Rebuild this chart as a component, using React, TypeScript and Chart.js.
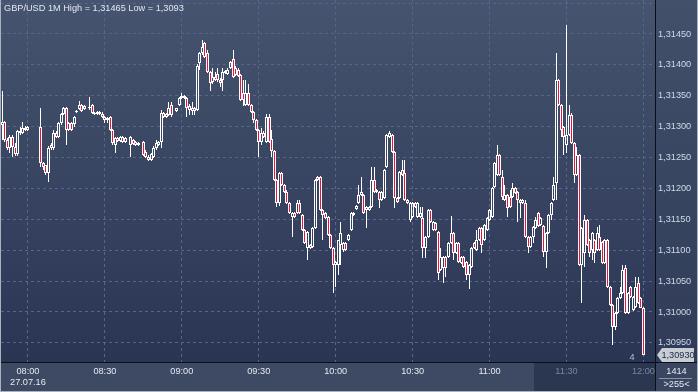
import React, { useEffect, useRef } from 'react';
import { Chart, registerables } from 'chart.js';

Chart.register(...registerables);

// ---- categories (1-minute slots, 07:50 .. 12:04) ----
const startMinute = 7 * 60 + 50;
const slotCount = 255;
const timeLabels: string[] = Array.from({ length: slotCount }, (_, i) => {
  const m = startMinute + i;
  return `${String(Math.floor(m / 60)).padStart(2, '0')}:${String(m % 60).padStart(2, '0')}`;
});
const dateLabel = '27.07.16';
const highlightFrom = '11:18';

// ---- texts ----
const symbolTitle = 'GBP/USD 1M';
const highText = '1,31465';
const lowText = '1,3093';
const lastPriceText = '1,30930';
const barCountText = '1414';
const visibleBarsText = '>255<';
const cornerMark = '4';

// ---- y axis ----
const yMin = 1.30919;
const yMax = 1.31505;
const yStep = 0.0005;

// ---- OHLC series ----
const openPrices: (number | null)[] = [
  1.31303, 1.31308, 1.31279, 1.31266, 1.31283, 1.31267, 1.31256, 1.31293, 1.3129, 1.31298,
  1.313, null, null, null, null, 1.313, 1.31241, 1.31238, 1.31225, 1.3127,
  1.31266, 1.3129, 1.31283, 1.31306, 1.31321, 1.3133, 1.31295, 1.31306, 1.31304, 1.31324,
  1.31329, 1.31335, 1.31329, null, 1.3133, 1.31335, 1.31322, 1.31321, 1.31324, 1.31321,
  1.31316, 1.31311, 1.31316, 1.31295, 1.3127, 1.31282, 1.31277, 1.31283, 1.31275, null,
  1.3127, 1.31279, 1.31275, 1.3127, null, 1.31275, 1.31259, 1.31251, 1.31246, 1.31251,
  1.31266, 1.3127, 1.31275, 1.31322, 1.31316, 1.31319, 1.31335, null, 1.31325, 1.31335,
  1.31346, 1.3135, 1.31346, 1.31334, 1.31325, 1.3133, 1.31327, 1.31403, 1.31419, 1.31435,
  1.31419, 1.31389, 1.31372, 1.31376, 1.31385, 1.31376, 1.31376, 1.31387, 1.31385, 1.31395,
  1.3141, 1.31395, 1.31392, 1.31384, 1.31355, 1.31335, 1.31355, 1.31335, 1.31324, 1.31311,
  1.31295, 1.31275, 1.3129, 1.31275, 1.31316, 1.3128, 1.31261, 1.31214, 1.31177, 1.31225,
  1.31206, 1.31194, 1.31177, 1.31154, 1.3116, 1.3116, 1.31177, 1.31157, 1.31133, 1.31104,
  1.31109, 1.31105, 1.31136, 1.31219, 1.31219, 1.31165, 1.3116, 1.31154, 1.31125, 1.31104,
  1.31076, 1.31076, 1.31109, 1.311, 1.31112, 1.31117, 1.31133, 1.3116, 1.31167, 1.31177,
  1.3119, 1.3119, 1.3117, 1.31165, 1.3117, 1.31214, 1.31198, 1.31194, 1.31181, 1.31185,
  1.31235, 1.31283, 1.31287, 1.31259, 1.31185, 1.31185, 1.3123, 1.31225, 1.31181, 1.31149,
  1.31154, 1.31177, 1.31154, 1.31154, 1.31152, 1.31104, 1.31122, 1.31165, 1.31133, 1.31144,
  1.3113, 1.31068, 1.31071, 1.31089, 1.31089, 1.31112, 1.31128, 1.31096, 1.31112, 1.3108,
  1.31089, 1.31081, 1.3106, 1.31073, 1.31112, 1.311, 1.31117, 1.31136, 1.31117, 1.31133,
  1.31149, 1.31154, 1.31202, 1.31222, 1.31254, 1.31219, 1.31181, 1.3119, 1.31186, 1.31186,
  1.31201, 1.31194, 1.31181, 1.31177, 1.31177, 1.31122, 1.31105, 1.31122, 1.31136, 1.3116,
  1.31141, 1.31139, 1.31097, 1.31128, 1.31157, 1.31181, 1.31209, 1.31376, 1.31335, 1.313,
  1.3127, 1.31287, 1.31319, 1.31274, 1.31222, 1.31254, 1.31076, 1.31096, 1.31149, 1.31117,
  1.311, 1.31117, 1.311, 1.31122, 1.31113, 1.3108, 1.31117, 1.31041, 1.31012, 1.30976,
  1.30999, 1.31023, 1.31031, 1.31071, 1.30999, 1.31041, 1.31003, 1.31008, 1.31047, 1.31023,
  1.31007,
];

const highPrices: (number | null)[] = [
  1.31358, 1.31309, 1.31282, 1.31287, 1.31287, 1.31274, 1.31295, 1.313, 1.31308, 1.31301,
  1.31301, null, null, null, null, 1.3133, 1.31243, 1.31238, 1.31269, 1.31274,
  1.31295, 1.31293, 1.31308, 1.31322, 1.31332, 1.31332, 1.31308, 1.31308, 1.31317, 1.31327,
  1.31342, 1.31337, 1.31335, null, 1.31348, 1.31337, 1.31324, 1.31325, 1.31325, 1.31324,
  1.31317, 1.31316, 1.31317, 1.31296, 1.31283, 1.31283, 1.31285, 1.31285, 1.31283, null,
  1.31285, 1.3128, 1.31277, 1.31275, null, 1.31277, 1.31262, 1.31254, 1.31258, 1.31269,
  1.31279, 1.31277, 1.31327, 1.31324, 1.31322, 1.3134, 1.3134, null, 1.3133, 1.31348,
  1.31355, 1.31351, 1.31348, 1.31337, 1.3134, 1.31332, 1.31402, 1.31421, 1.3144, 1.31437,
  1.31424, 1.3139, 1.31395, 1.31389, 1.31395, 1.31379, 1.31395, 1.31392, 1.31395, 1.31406,
  1.31424, 1.31398, 1.31395, 1.31385, 1.31376, 1.31376, 1.31369, 1.31337, 1.31325, 1.31313,
  1.31296, 1.31298, 1.31293, 1.31321, 1.31321, 1.31295, 1.31262, 1.31215, 1.31227, 1.31227,
  1.31207, 1.31198, 1.31178, 1.31162, 1.31162, 1.31181, 1.31181, 1.31159, 1.31135, 1.31131,
  1.3111, 1.31138, 1.31215, 1.3122, 1.3122, 1.31167, 1.31162, 1.31156, 1.31126, 1.31105,
  1.31083, 1.31117, 1.31146, 1.31113, 1.31113, 1.31126, 1.31162, 1.31162, 1.31173, 1.31206,
  1.31219, 1.31191, 1.31172, 1.31172, 1.31235, 1.31235, 1.31199, 1.31196, 1.31196, 1.31232,
  1.31288, 1.31293, 1.31288, 1.31261, 1.31186, 1.31228, 1.31246, 1.31246, 1.31183, 1.31178,
  1.31178, 1.31178, 1.31178, 1.3117, 1.3117, 1.31123, 1.31167, 1.31167, 1.31147, 1.31146,
  1.31131, 1.31104, 1.31091, 1.31091, 1.31113, 1.31156, 1.3113, 1.31113, 1.31113, 1.31091,
  1.31091, 1.31083, 1.31078, 1.31105, 1.31113, 1.31133, 1.31138, 1.31138, 1.31143, 1.31154,
  1.31167, 1.31202, 1.31243, 1.3127, 1.31256, 1.3123, 1.31206, 1.31191, 1.31198, 1.31209,
  1.31202, 1.31196, 1.31183, 1.31183, 1.31181, 1.31123, 1.31123, 1.31139, 1.31154, 1.31162,
  1.31154, 1.31141, 1.3113, 1.31159, 1.31178, 1.31219, 1.31419, 1.31377, 1.31337, 1.31301,
  1.31465, 1.31335, 1.31322, 1.31275, 1.31267, 1.31256, 1.31138, 1.31157, 1.31151, 1.31118,
  1.3113, 1.31118, 1.31138, 1.31141, 1.31115, 1.31118, 1.31118, 1.31042, 1.31013, 1.31,
  1.31025, 1.31041, 1.31076, 1.31076, 1.31033, 1.31042, 1.31026, 1.31057, 1.31057, 1.31025,
  1.31008,
];

const lowPrices: (number | null)[] = [
  1.31279, 1.31275, 1.31262, 1.31258, 1.31251, 1.31253, 1.31253, 1.31287, 1.31288, 1.31293,
  1.31293, null, null, null, null, 1.31235, 1.3123, 1.31222, 1.31211, 1.31262,
  1.31262, 1.31282, 1.31282, 1.31303, 1.31319, 1.3127, 1.31293, 1.31293, 1.313, 1.31322,
  1.31327, 1.31324, 1.31327, null, 1.31327, 1.31321, 1.31319, 1.31319, 1.31319, 1.31314,
  1.31306, 1.31306, 1.31293, 1.3127, 1.31258, 1.31275, 1.31275, 1.31274, 1.31274, null,
  1.31251, 1.3127, 1.31269, 1.31269, null, 1.31253, 1.31249, 1.31245, 1.31245, 1.31249,
  1.31262, 1.31269, 1.31266, 1.31314, 1.31314, 1.31317, 1.31316, null, 1.31324, 1.31334,
  1.31345, 1.31345, 1.31316, 1.31319, 1.31319, 1.31319, 1.31325, 1.31392, 1.31416, 1.31411,
  1.31387, 1.31358, 1.31369, 1.31374, 1.31372, 1.31364, 1.31358, 1.31385, 1.31384, 1.31393,
  1.31379, 1.31382, 1.3138, 1.31342, 1.31334, 1.31334, 1.31334, 1.31322, 1.31306, 1.31293,
  1.31251, 1.3127, 1.31282, 1.31274, 1.31274, 1.31251, 1.31212, 1.3117, 1.31172, 1.31204,
  1.31193, 1.31175, 1.31159, 1.31122, 1.31152, 1.31159, 1.31159, 1.31131, 1.3111, 1.31084,
  1.31102, 1.31104, 1.31135, 1.31212, 1.31164, 1.31117, 1.31151, 1.31123, 1.31102, 1.31031,
  1.31041, 1.3106, 1.31076, 1.31097, 1.31099, 1.31115, 1.31131, 1.31156, 1.31165, 1.31175,
  1.31188, 1.31159, 1.31136, 1.31164, 1.31169, 1.31193, 1.31193, 1.31169, 1.3118, 1.31183,
  1.31233, 1.31282, 1.31258, 1.31169, 1.31177, 1.31183, 1.3122, 1.3118, 1.31175, 1.31146,
  1.31152, 1.31169, 1.31152, 1.31152, 1.31088, 1.31088, 1.3112, 1.31144, 1.31131, 1.31131,
  1.31052, 1.31067, 1.31047, 1.31057, 1.31088, 1.3111, 1.31084, 1.31094, 1.3108, 1.31078,
  1.31071, 1.31052, 1.31037, 1.31071, 1.31102, 1.31099, 1.31115, 1.31096, 1.31115, 1.31131,
  1.31147, 1.31152, 1.31201, 1.3122, 1.3122, 1.31181, 1.3118, 1.31154, 1.31169, 1.31185,
  1.31191, 1.31146, 1.31152, 1.31175, 1.3112, 1.31096, 1.31104, 1.31112, 1.31135, 1.31138,
  1.31139, 1.31089, 1.31071, 1.31126, 1.31149, 1.3118, 1.31181, 1.31334, 1.31283, 1.31254,
  1.31258, 1.31285, 1.31272, 1.31209, 1.3122, 1.31075, 1.31015, 1.31073, 1.31107, 1.31089,
  1.31084, 1.3108, 1.31099, 1.31099, 1.31078, 1.31078, 1.31039, 1.3101, 1.30947, 1.30971,
  1.30997, 1.31021, 1.31029, 1.30997, 1.30997, 1.31023, 1.31002, 1.31007, 1.31013, 1.31007,
  1.3093,
];

const closePrices: (number | null)[] = [
  1.31308, 1.31279, 1.31266, 1.31283, 1.31267, 1.31256, 1.31293, 1.3129, 1.31298, 1.31295,
  1.31295, null, null, null, null, 1.31241, 1.31235, 1.31225, 1.31266, 1.31266,
  1.3129, 1.31283, 1.31306, 1.31321, 1.3133, 1.31295, 1.31306, 1.31295, 1.31316, 1.31325,
  1.31335, 1.31325, 1.31334, null, 1.31332, 1.31322, 1.31321, 1.31324, 1.31321, 1.31316,
  1.31311, 1.31314, 1.31295, 1.31274, 1.31282, 1.31277, 1.31283, 1.31275, 1.31282, null,
  1.31283, 1.31272, 1.3127, 1.31274, null, 1.31254, 1.31251, 1.31246, 1.31256, 1.31266,
  1.31274, 1.31275, 1.31322, 1.31316, 1.31321, 1.3133, 1.31319, null, 1.3133, 1.31346,
  1.3135, 1.31346, 1.3133, 1.31327, 1.3133, 1.31325, 1.31398, 1.31419, 1.31429, 1.31413,
  1.31389, 1.31371, 1.3138, 1.3138, 1.31376, 1.31371, 1.31389, 1.3139, 1.31392, 1.31405,
  1.3138, 1.31384, 1.31382, 1.31343, 1.31343, 1.31355, 1.31335, 1.31324, 1.31311, 1.31295,
  1.31275, 1.3129, 1.31283, 1.31316, 1.31275, 1.31261, 1.31214, 1.31177, 1.31225, 1.31206,
  1.31194, 1.31177, 1.3116, 1.3116, 1.31154, 1.31177, 1.3116, 1.31133, 1.31112, 1.3113,
  1.31104, 1.31136, 1.31214, 1.31214, 1.31165, 1.31157, 1.31152, 1.31125, 1.31104, 1.31076,
  1.31081, 1.31117, 1.31128, 1.31112, 1.311, 1.31125, 1.3116, 1.31157, 1.31172, 1.3119,
  1.31194, 1.3116, 1.31165, 1.3117, 1.31214, 1.31194, 1.31194, 1.31181, 1.31194, 1.3123,
  1.31287, 1.3129, 1.31259, 1.31185, 1.31178, 1.31227, 1.31222, 1.31181, 1.31177, 1.31177,
  1.31177, 1.3117, 1.31177, 1.3116, 1.31104, 1.31122, 1.31165, 1.31146, 1.31146, 1.31133,
  1.31063, 1.31089, 1.31089, 1.31071, 1.31112, 1.31128, 1.31096, 1.31112, 1.31081, 1.31089,
  1.31073, 1.3106, 1.31076, 1.31104, 1.31104, 1.31117, 1.31136, 1.31109, 1.31141, 1.31152,
  1.31165, 1.31201, 1.31241, 1.31254, 1.31222, 1.31186, 1.3119, 1.31169, 1.3117, 1.31201,
  1.31193, 1.31181, 1.31177, 1.31181, 1.31122, 1.31105, 1.31122, 1.31138, 1.31149, 1.31139,
  1.31152, 1.31097, 1.31128, 1.31157, 1.31177, 1.31206, 1.31376, 1.31335, 1.31295, 1.31283,
  1.31287, 1.31319, 1.31274, 1.31222, 1.31254, 1.31076, 1.31136, 1.31149, 1.31109, 1.31096,
  1.31128, 1.31096, 1.31128, 1.311, 1.3108, 1.31117, 1.31041, 1.31012, 1.30976, 1.30999,
  1.31023, 1.31031, 1.31068, 1.30999, 1.31031, 1.31025, 1.31025, 1.31041, 1.31015, 1.31007,
  1.3093,
];

// ---- styling ----
const FONT = '"Liberation Sans", Arial, sans-serif';
const FONT_SIZE = 9.2;
const RED = '#e8143c';
const WHITE = '#ffffff';
const GRID = '#56658a';
const TEXT = '#e4e9f2';
const Y_TEXT = '#d0d9ea';
const DIM_TEXT = '#7b859a';

export default function App() {
  const ref = useRef<HTMLCanvasElement>(null);

  useEffect(() => {
    const canvas = ref.current;
    if (!canvas) return;

    const upper: ([number, number] | null)[] = [];
    const lower: ([number, number] | null)[] = [];
    const bodies: ([number, number] | null)[] = [];
    const bodyColors: string[] = [];
    for (let i = 0; i < slotCount; i++) {
      const o = openPrices[i];
      const h = highPrices[i];
      const l = lowPrices[i];
      const c = closePrices[i];
      if (o == null || h == null || l == null || c == null) {
        upper.push(null);
        lower.push(null);
        bodies.push(null);
        bodyColors.push('rgba(0,0,0,0)');
        continue;
      }
      const top = Math.max(o, c);
      const bot = Math.min(o, c);
      bodies.push([o, c]);
      upper.push(h > top ? [top, h] : null);
      lower.push(l < bot ? [l, bot] : null);
      bodyColors.push(c < o ? RED : 'rgba(0,0,0,0)');
    }

    const hiIndex = timeLabels.indexOf(highlightFrom);
    const isHalfHour = (idx: number) => {
      const lab = timeLabels[idx];
      return !!lab && (lab.endsWith(':00') || lab.endsWith(':30'));
    };

    const bgPlugin = {
      id: 'bg',
      beforeDraw(chart: any) {
        const { ctx, chartArea: a, width, height } = chart;
        ctx.save();
        ctx.fillStyle = '#3d4962';
        ctx.fillRect(0, 0, width, height);
        const g = ctx.createLinearGradient(0, a.top, 0, a.bottom);
        g.addColorStop(0, '#46546f');
        g.addColorStop(1, '#2a3553');
        ctx.fillStyle = g;
        ctx.fillRect(0, a.top, a.right, a.bottom - a.top);
        const g2 = ctx.createLinearGradient(0, a.top, 0, a.bottom);
        g2.addColorStop(0, '#42506a');
        g2.addColorStop(1, '#2f3b57');
        ctx.fillStyle = g2;
        ctx.fillRect(a.right, 0, width - a.right, a.bottom);
        ctx.fillStyle = '#3e4a63';
        ctx.fillRect(0, a.bottom, width, height - a.bottom);
        const xs = chart.scales.x;
        const slot = xs.getPixelForValue(1) - xs.getPixelForValue(0);
        const hx = Math.round(xs.getPixelForValue(hiIndex) - slot / 2);
        ctx.fillStyle = '#2b3651';
        ctx.fillRect(hx, a.bottom, a.right - hx, height - a.bottom);
        ctx.fillStyle = '#3a4660';
        ctx.fillRect(a.right, a.bottom, width - a.right, height - a.bottom);
        ctx.restore();
      },
    };

    const snapPlugin = {
      id: 'snap',
      beforeDatasetsDraw(chart: any) {
        chart.data.datasets.forEach((ds: any, di: number) => {
          const meta = chart.getDatasetMeta(di);
          meta.data.forEach((el: any, i: number) => {
            if (ds.data[i] == null || !isFinite(el.x)) return;
            el.x = Math.floor(el.x) + 0.5;
            const y = Math.round(el.y);
            let b = Math.round(el.base);
            if (b === y) b = y + 1;
            el.y = y;
            el.base = b;
            el.height = Math.abs(b - y);
          });
        });
      },
    };

    const overlayPlugin = {
      id: 'overlay',
      afterDraw(chart: any) {
        const { ctx, chartArea: a, width, height } = chart;
        const right = Math.round(a.right);
        const bottom = Math.round(a.bottom);
        ctx.save();
        // separators
        ctx.fillStyle = '#0a0e16';
        ctx.fillRect(right, 0, 1, height);
        ctx.fillRect(0, bottom, width, 1);
        // frame
        ctx.fillStyle = '#aab2be';
        ctx.fillRect(0, 0, 1, height);
        ctx.fillRect(0, height - 1, width, 1);
        ctx.fillRect(width - 1, 0, 1, height);

        ctx.font = `${FONT_SIZE}px ${FONT}`;
        ctx.textBaseline = 'middle';
        // title
        ctx.fillStyle = TEXT;
        ctx.textAlign = 'left';
        ctx.fillText(`${symbolTitle} High = ${highText} Low = ${lowText}`, 4, 8);

        // corner mark
        ctx.fillStyle = '#aebfe0';
        ctx.textAlign = 'center';
        ctx.fillText(cornerMark, 632, 357);

        // last price tag
        const last = closePrices[closePrices.length - 1] as number;
        const ty = Math.round(chart.scales.y.getPixelForValue(last));
        ctx.beginPath();
        ctx.moveTo(right + 2, ty);
        ctx.lineTo(right + 7, ty - 7);
        ctx.lineTo(width - 4, ty - 7);
        ctx.lineTo(width - 4, ty + 7);
        ctx.lineTo(right + 7, ty + 7);
        ctx.closePath();
        ctx.fillStyle = '#c8ccd3';
        ctx.fill();
        ctx.fillStyle = '#1c2740';
        ctx.textAlign = 'center';
        ctx.fillText(lastPriceText, (right + 7 + width - 4) / 2, ty + 0.5);

        // bottom-right cell
        const cx = (right + width) / 2;
        ctx.fillStyle = TEXT;
        ctx.fillText(barCountText, cx, 371);
        ctx.fillStyle = '#8893a6';
        ctx.fillRect(right + 4, 378, width - right - 10, 1);
        ctx.fillStyle = TEXT;
        ctx.fillText(visibleBarsText, cx, 384.5);
        ctx.restore();
      },
    };

    const chart = new Chart(canvas, {
      type: 'bar',
      data: {
        labels: timeLabels,
        datasets: [
          {
            label: 'upper wick',
            data: upper as any,
            backgroundColor: WHITE,
            borderWidth: 0,
            barThickness: 1,
            grouped: false,
            inflateAmount: 0,
            order: 2,
          } as any,
          {
            label: 'lower wick',
            data: lower as any,
            backgroundColor: WHITE,
            borderWidth: 0,
            barThickness: 1,
            grouped: false,
            inflateAmount: 0,
            order: 2,
          } as any,
          {
            label: 'body',
            data: bodies as any,
            backgroundColor: bodyColors,
            borderColor: WHITE,
            borderWidth: 1,
            borderSkipped: false,
            barThickness: 3,
            grouped: false,
            inflateAmount: 0,
            order: 1,
          } as any,
        ],
      },
      options: {
        responsive: false,
        maintainAspectRatio: false,
        animation: false,
        devicePixelRatio: 1,
        events: [],
        layout: { padding: { left: 1, right: 0, top: 0, bottom: 0 } },
        plugins: {
          legend: { display: false },
          tooltip: { enabled: false },
          title: { display: false },
        },
        scales: {
          x: {
            type: 'category',
            offset: true,
            grid: {
              offset: false,
              drawTicks: false,
              lineWidth: 1,
              color: (c: any) => (typeof c.index === 'number' && isHalfHour(c.index) ? GRID : 'rgba(0,0,0,0)'),
            },
            border: { display: false, dash: [3, 3] },
            ticks: {
              autoSkip: false,
              maxRotation: 0,
              minRotation: 0,
              padding: 4,
              font: { family: FONT, size: FONT_SIZE },
              color: (c: any) => (c.index >= hiIndex ? DIM_TEXT : TEXT),
              callback: (value: any, index: number) => {
                const lab = timeLabels[index];
                if (!isHalfHour(index)) return '';
                if (index === timeLabels.indexOf('08:00')) return [lab, dateLabel];
                return lab;
              },
            },
            afterFit: (scale: any) => {
              scale.height = 30;
              scale.paddingLeft = 0;
              scale.paddingRight = 0;
            },
          } as any,
          y: {
            type: 'linear',
            position: 'right',
            min: yMin,
            max: yMax,
            grid: { drawTicks: false, color: GRID, lineWidth: 1 },
            border: { display: false, dash: [3, 3] },
            ticks: {
              stepSize: yStep,
              includeBounds: false,
              padding: 3,
              font: { family: FONT, size: FONT_SIZE },
              color: Y_TEXT,
              callback: (v: any) => (Number(v) > 1.31475 ? '' : Number(v).toFixed(5).replace('.', ',')),
            },
            afterFit: (scale: any) => {
              scale.width = 43;
              scale.paddingTop = 0;
              scale.paddingBottom = 0;
            },
          } as any,
        },
      } as any,
      plugins: [bgPlugin, snapPlugin, overlayPlugin],
    });

    return () => chart.destroy();
  }, []);

  return (
    <div style={{ position: 'fixed', left: 0, top: 0, width: 698, height: 392 }}>
      <canvas ref={ref} width={698} height={392} style={{ display: 'block', width: 698, height: 392 }} />
    </div>
  );
}
